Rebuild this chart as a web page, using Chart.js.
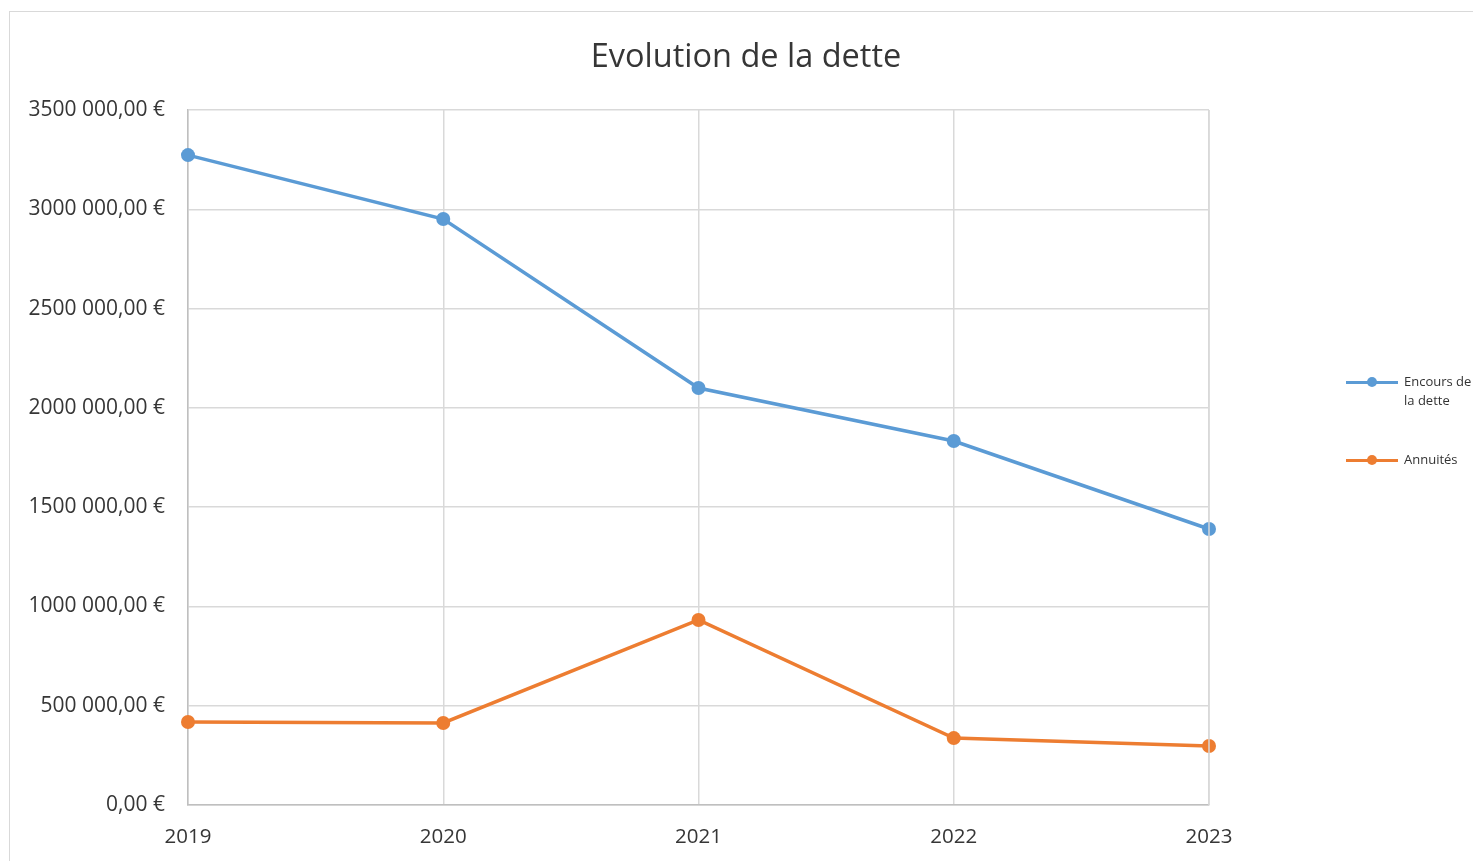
<!DOCTYPE html>
<html>
<head>
<meta charset="utf-8">
<script src="https://cdn.jsdelivr.net/npm/chart.js@4"></script>
<style>
    html, body { margin: 0; padding: 0; background: #fff; overflow: hidden; }
    #wrap { position: relative; width: 1473px; height: 861px; }
    #frame { position: absolute; left: 9px; top: 11px; width: 1600px; height: 900px; border: 1px solid #d9d9d9; box-sizing: border-box; }
    #debt-chart { position: absolute; left: 0; top: 0; }
    .legend { position: absolute; left: 1346px; top: 372px; font-family: "Open Sans", sans-serif; font-size: 13px; color: #333; }
    .legend .item { display: flex; align-items: flex-start; margin-bottom: 40px; }
    .legend .swatch { position: relative; width: 52px; height: 20px; margin-right: 6px; flex: none; }
    .legend .swatch .ln { position: absolute; left: 0; right: 0; top: 9px; height: 3px; }
    .legend .swatch .pt { position: absolute; left: 21px; top: 5px; width: 10px; height: 10px; border-radius: 50%; }
    .legend .lbl { width: 74px; line-height: 19px; }
</style>
</head>
<body>
<div id="wrap">
    <div id="frame"></div>
    <canvas id="debt-chart" width="1473" height="861"></canvas>
    <div class="legend" id="debt-legend"></div>
</div>
<script>
const years = ['2019', '2020', '2021', '2022', '2023'];
const encoursDette = [3273000, 2951000, 2100000, 1833000, 1390000];
const annuites = [418000, 413000, 932000, 337000, 297000];
const seriesNames = ['Encours de la dette', 'Annuités'];
const seriesColors = ['#5b9bd5', '#ed7d31'];
const yTicks = [0, 500000, 1000000, 1500000, 2000000, 2500000, 3000000, 3500000];
const chartTitle = 'Evolution de la dette';

const textColor = '#363636';
const gridColor = '#d9d9d9';
const fontFamily = '"Open Sans", sans-serif';

function formatEuro(v) {
    if (v === 0) return '0,00 €';
    return Math.floor(v / 1000) + ' 000,00 €';
}

function makeDataset(label, values, color) {
    return {
        label: label,
        data: values,
        borderColor: color,
        backgroundColor: color,
        borderWidth: 3.5,
        pointRadius: 7,
        pointHoverRadius: 7,
        pointBorderWidth: 0,
        tension: 0
    };
}

const ctx = document.getElementById('debt-chart');
new Chart(ctx, {
    type: 'line',
    data: {
        labels: years,
        datasets: [
            makeDataset(seriesNames[0], encoursDette, seriesColors[0]),
            makeDataset(seriesNames[1], annuites, seriesColors[1])
        ]
    },
    options: {
        responsive: false,
        animation: false,
        layout: { padding: { left: 0, right: 264, top: 110, bottom: 0 } },
        plugins: {
            legend: { display: false },
            tooltip: { enabled: false },
            title: { display: false }
        },
        scales: {
            x: {
                offset: false,
                grid: { color: gridColor, lineWidth: 1.5, drawTicks: false },
                border: { color: '#bfbfbf', width: 1.5 },
                ticks: {
                    color: textColor,
                    padding: 20,
                    maxRotation: 0,
                    font: { family: fontFamily, size: 20.5 }
                },
                afterFit(scale) { scale.height = 56; }
            },
            y: {
                min: 0,
                max: 3500000,
                afterBuildTicks(scale) { scale.ticks = yTicks.map(v => ({ value: v })); },
                grid: { color: gridColor, lineWidth: 1.5, drawTicks: false },
                border: { color: '#bfbfbf', width: 1.5 },
                ticks: {
                    color: textColor,
                    padding: 23,
                    callback: v => formatEuro(v),
                    font: { family: fontFamily, size: 21 }
                },
                afterFit(scale) { scale.width = 188; }
            }
        }
    },
    plugins: [{
        id: 'frameAndTitle',
        afterDraw(chart) {
            const a = chart.chartArea;
            const c = chart.ctx;
            c.save();
            c.strokeStyle = gridColor;
            c.lineWidth = 1.5;
            c.beginPath();
            c.moveTo(a.right, a.top);
            c.lineTo(a.right, a.bottom);
            c.stroke();
            c.fillStyle = textColor;
            c.font = '32.5px ' + fontFamily;
            c.textAlign = 'center';
            c.textBaseline = 'middle';
            c.fillText(chartTitle, 746, 58);
            c.restore();
        }
    }]
});

const legendEl = document.getElementById('debt-legend');
legendEl.innerHTML = seriesNames.map((name, i) => `
    <div class="item">
        <div class="swatch"><div class="ln" style="background:${seriesColors[i]}"></div><div class="pt" style="background:${seriesColors[i]}"></div></div>
        <div class="lbl">${name}</div>
    </div>
`).join('');
</script>
</body>
</html>
